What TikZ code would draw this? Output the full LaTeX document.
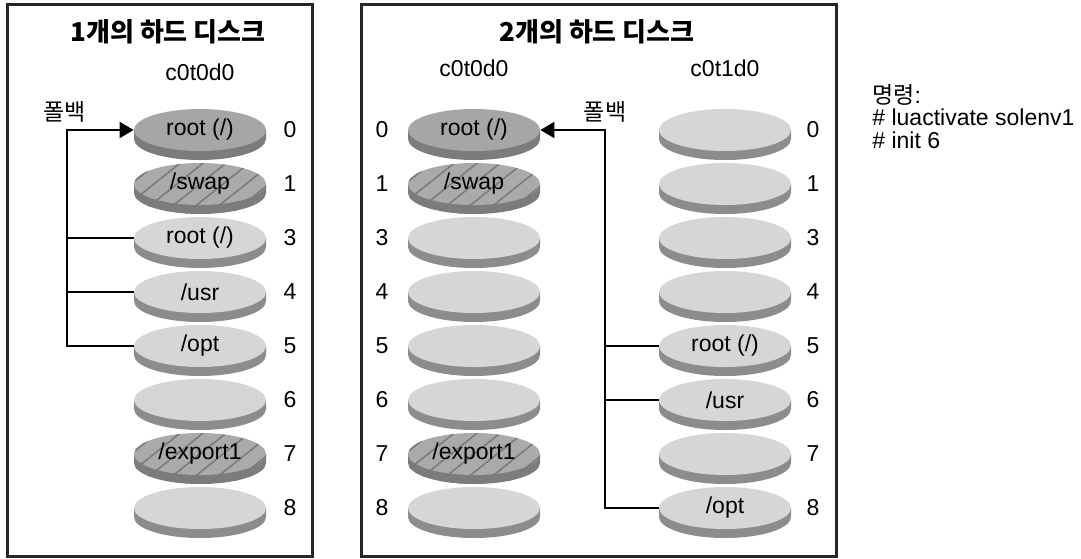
\documentclass[tikz,border=0pt]{standalone}
\usepackage{fontspec}
\setmainfont{Liberation Sans}
\newfontfamily\kr{Noto Sans CJK KR}
\usetikzlibrary{arrows.meta,shapes.geometric}

\definecolor{Ltop}{HTML}{D6D6D8}
\definecolor{Lside}{HTML}{8C8C8C}
\definecolor{Dtop}{HTML}{A6A6A6}
\definecolor{Dside}{HTML}{7C7C7C}
\definecolor{Htop}{HTML}{AAAAAA}
\definecolor{Hside}{HTML}{7C7C7C}
\definecolor{hatchgray}{HTML}{7A7A7A}

% one slice: name, x, y, kind (L light, D dark, H hatched), label
\newcommand{\hdisk}[5]{%
  \colorlet{dtop}{#4top}\colorlet{dside}{#4side}%
  \fill[dside] (#2-66,#3) -- ++(0,9) arc[start angle=180,end angle=360,x radius=33pt,y radius=10.5pt] -- ++(0,-9) -- cycle;
  \fill[dtop] (#2,#3) ellipse[x radius=33pt,y radius=10.5pt];
  \if#4H
    \begin{scope}
      \clip (#2-66,#3) arc[start angle=180,end angle=0,x radius=33pt,y radius=10.5pt] -- ++(0,9) arc[start angle=0,end angle=-180,x radius=33pt,y radius=10.5pt] -- cycle;
      \foreach \k in {-4,...,4}
        \draw[hatchgray, line width=0.75pt] (#2+\k*23-40,#3+32) -- ++(80,-64);
    \end{scope}
  \fi
  \node[diskstyle] (#1) at (#2,#3) {#5};
}

\begin{document}
\begin{tikzpicture}[x=0.5pt, y=-0.5pt,
    font=\fontsize{11.5}{11.25}\selectfont,
    diskstyle/.style={ellipse, minimum width=66pt, minimum height=21pt, inner sep=0pt},
    numstyle/.style={inner sep=0pt},
    frame/.style={line width=1.5pt, draw=black!85},
    busline/.style={line width=1pt},
    titlestyle/.style={font=\fontsize{13}{15}\selectfont\kr\bfseries}]
  \useasboundingbox (0,0) rectangle (1081,558);

  \draw[frame] (7,4) rectangle (312,556);
  \draw[frame] (361,4) rectangle (836,556);

  \node[titlestyle] (t1) at (168,32) {1개의 하드 디스크};
  \node[titlestyle] (t2) at (597,32) {2개의 하드 디스크};
  \node (da) at (200,72) {c0t0d0};
  \node (db) at (474,68) {c0t0d0};
  \node (dc) at (725,68) {c0t1d0};

  % one disk
  \foreach \s/\y/\kind/\lab in {0/130/D/{root (/)}, 1/184/H/{/swap}, 3/238/L/{root (/)}, 4/292/L/{/usr},
      5/346/L/{/opt}, 6/400/L/{}, 7/454/H/{/export1}, 8/508/L/{}} {
    \hdisk{a\s}{200}{\y}{\kind}{\lab}
    \node[numstyle] (na\s) at (290,\y) {\s};
  }

  % two disks
  \foreach \s/\y/\kind/\lab in {0/130/D/{root (/)}, 1/184/H/{/swap}, 3/238/L/{}, 4/292/L/{},
      5/346/L/{}, 6/400/L/{}, 7/454/H/{/export1}, 8/508/L/{}} {
    \hdisk{b\s}{474}{\y}{\kind}{\lab}
    \node[numstyle] (nb\s) at (382,\y) {\s};
  }
  \foreach \s/\y/\kind/\lab in {0/130/L/{}, 1/184/L/{}, 3/238/L/{}, 4/292/L/{},
      5/346/L/{root (/)}, 6/400/L/{/usr}, 7/454/L/{}, 8/508/L/{/opt}} {
    \hdisk{c\s}{725}{\y}{\kind}{\lab}
    \node[numstyle] (nc\s) at (813,\y) {\s};
  }

  % fallback
  \coordinate (abus) at (67,130);
  \draw[busline, -{Triangle[length=7pt,width=8pt]}] (a5.west) -- (a5.west -| abus) -- (abus) -- (a0.west);
  \foreach \s in {3,4}
    \draw[busline] (a\s.west) -- (a\s.west -| abus);
  \node (fa) at (65,112) {\kr 폴백};

  \coordinate (cbus) at (605,130);
  \draw[busline, -{Triangle[length=7pt,width=8pt]}] (c8.west) -- (c8.west -| cbus) -- (cbus) -- (b0.east);
  \foreach \s in {5,6}
    \draw[busline] (c\s.west) -- (c\s.west -| cbus);
  \node (fc) at (605,112) {\kr 폴백};

  \node[anchor=north west, align=left, inner sep=0pt] (cmd) at (872,84)
    {{\kr 명령}:\\\# luactivate solenv1\\\# init 6};
\end{tikzpicture}
\end{document}
